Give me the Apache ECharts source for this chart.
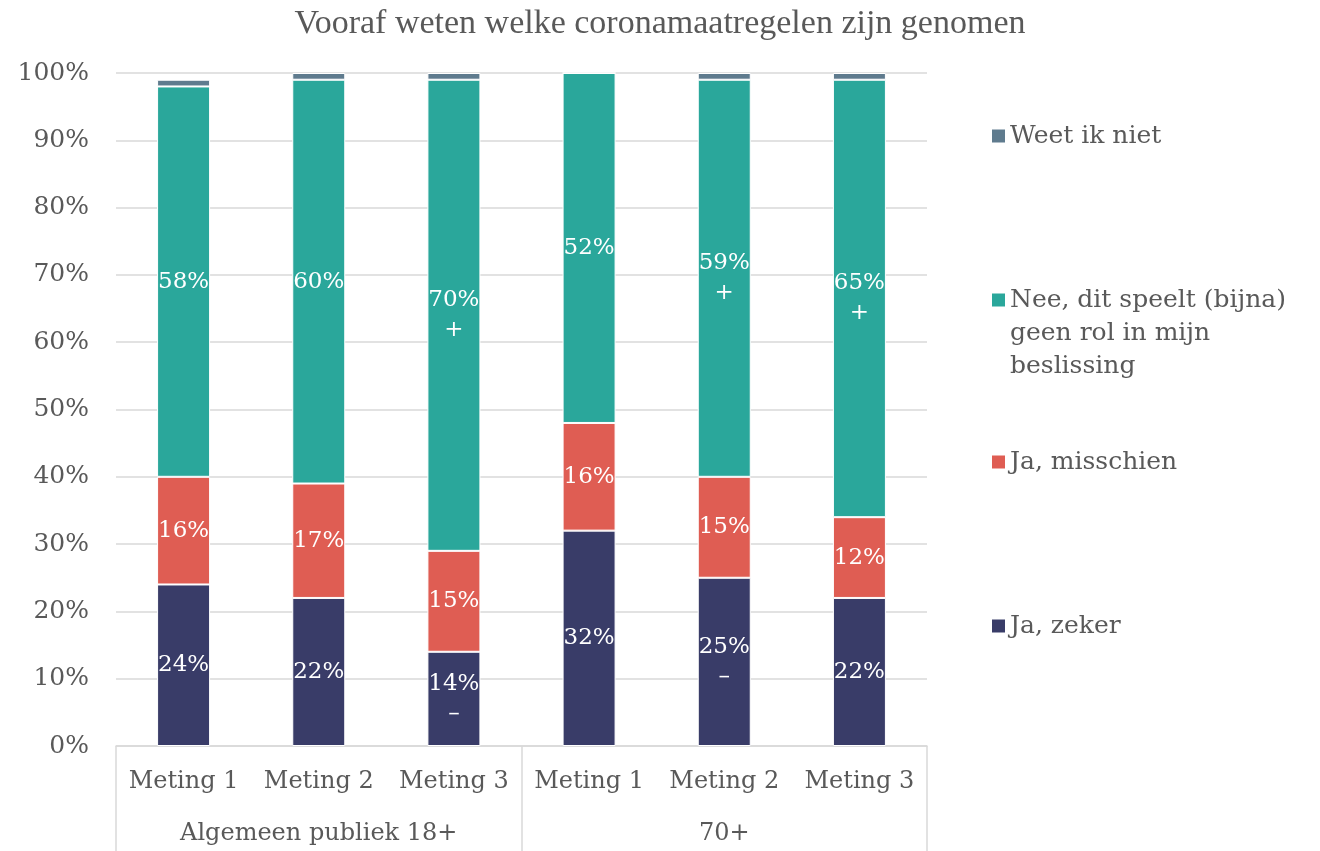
<!DOCTYPE html>
<html>
<head>
<meta charset="utf-8">
<script src="https://cdn.jsdelivr.net/npm/echarts@6/dist/echarts.min.js"></script>
<style>
html,body{margin:0;padding:0;background:#fff;}
#chart{width:1320px;height:851px;}
</style>
</head>
<body>
<div id="chart"></div>
<script>
const categories = ['Meting 1','Meting 2','Meting 3','Meting 1','Meting 2','Meting 3'];
const groups = ['Algemeen publiek 18+','70+'];
const jaZeker = [24,22,14,32,25,22];
const jaMisschien = [16,17,15,16,15,12];
const nee = [58,60,70,52,59,65];
const weetNiet = [1,1,1,0,1,1];
const jaZekerMarks = ['','','–','','–',''];
const jaMisschienMarks = ['','','','','',''];
const neeMarks = ['','','+','','+','+'];
const yTicks = [0,10,20,30,40,50,60,70,80,90,100];

const FONT = 'DejaVu Serif';
const GREY = '#595959';
const names = ['Ja, zeker','Ja, misschien','Nee, dit speelt (bijna) geen rol in mijn beslissing','Weet ik niet'];
const colors = ['#393c68','#df5d53','#2aa79b','#5f7b8e'];

function mkLabel(marks){
  return {
    show:true, position:'inside', color:'#fff', fontFamily:FONT, fontSize:23, lineHeight:30,
    formatter: p => p.value + '%' + (marks[p.dataIndex] ? '\n' + marks[p.dataIndex] : '')
  };
}
function mkSeries(i, data, label){
  return {
    name:names[i], type:'bar', stack:'s', data:data, barWidth:53,
    itemStyle:{color:colors[i], borderColor:'#fff', borderWidth:1},
    label: label || {show:false}, emphasis:{disabled:true}
  };
}
function mkLegend(name, top, extra){
  return Object.assign({
    data:[name], left:992, top:top, orient:'vertical', icon:'rect', padding:0,
    itemWidth:13, itemHeight:13, itemGap:5,
    itemStyle:{borderWidth:0},
    textStyle:{fontFamily:FONT, fontSize:25, color:GREY, lineHeight:33},
    selectedMode:false
  }, extra||{});
}

const chart = echarts.init(document.getElementById('chart'));
chart.setOption({
  animation:false,
  title:{text:'Vooraf weten welke coronamaatregelen zijn genomen', left:'center', top:2,
    textStyle:{fontFamily:'Liberation Serif', fontWeight:'normal', fontSize:34, color:GREY}},
  grid:{left:116, right:393, top:73, bottom:105},
  legend:[
    mkLegend(names[3], 119.5),
    mkLegend(names[2], 217.5, {
      formatter: () => '\n\nNee, dit speelt (bijna)\ngeen rol in mijn\nbeslissing'
    }),
    mkLegend(names[1], 445.5),
    mkLegend(names[0], 609.5)
  ],
  xAxis:[
    {type:'category', data:categories, position:'bottom',
     axisLine:{show:true, lineStyle:{color:'#d9d9d9', width:1.5}},
     axisTick:{show:false},
     axisLabel:{fontFamily:FONT, fontSize:24, color:GREY, margin:24, interval:0}},
    {type:'category', data:groups, position:'bottom',
     axisLine:{show:false},
     axisTick:{show:true, length:110, interval:0, lineStyle:{color:'#d9d9d9', width:1.5}},
     axisLabel:{fontFamily:FONT, fontSize:24, color:GREY, margin:76, interval:0}}
  ],
  yAxis:{type:'value', min:0, max:100, interval:10,
    axisLine:{show:false}, axisTick:{show:false},
    splitLine:{lineStyle:{color:'#d9d9d9', width:1.5}},
    axisLabel:{fontFamily:FONT, fontSize:25, color:GREY, margin:27,
      formatter: v => yTicks.indexOf(v) >= 0 ? v + '%' : ''}},
  series:[
    mkSeries(0, jaZeker, mkLabel(jaZekerMarks)),
    mkSeries(1, jaMisschien, mkLabel(jaMisschienMarks)),
    mkSeries(2, nee, mkLabel(neeMarks)),
    mkSeries(3, weetNiet)
  ]
});
</script>
</body>
</html>
